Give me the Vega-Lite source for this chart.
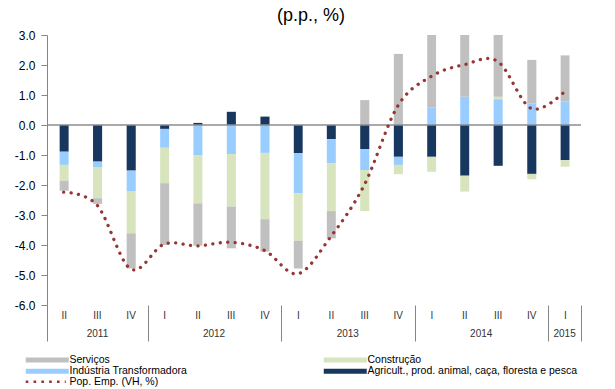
{
  "$schema": "https://vega.github.io/schema/vega-lite/v6.json",
  "width": 534,
  "height": 270,
  "autosize": "none",
  "padding": {"left": 47, "top": 35, "right": 34, "bottom": 84},
  "background": "white",
  "config": {"view": {"stroke": null}, "font": "Liberation Sans"},
  "title": {"text": "(p.p., %)", "fontSize": 18, "fontWeight": "normal", "font": "Liberation Sans", "color": "#000", "anchor": "middle", "frame": "group", "baseline": "middle", "offset": -5, "dx": -3},
  "datasets": {
    "sectors": [
      {"quarter": "2011-04-01", "series": "Agricult., prod. animal, caça, floresta e pesca", "value": -0.89},
      {"quarter": "2011-04-01", "series": "Indústria Transformadora", "value": -0.44},
      {"quarter": "2011-04-01", "series": "Construção", "value": -0.53},
      {"quarter": "2011-04-01", "series": "Serviços", "value": -0.33},
      {"quarter": "2011-07-01", "series": "Agricult., prod. animal, caça, floresta e pesca", "value": -1.22},
      {"quarter": "2011-07-01", "series": "Indústria Transformadora", "value": -0.20},
      {"quarter": "2011-07-01", "series": "Construção", "value": -1.02},
      {"quarter": "2011-07-01", "series": "Serviços", "value": -0.19},
      {"quarter": "2011-10-01", "series": "Agricult., prod. animal, caça, floresta e pesca", "value": -1.52},
      {"quarter": "2011-10-01", "series": "Indústria Transformadora", "value": -0.70},
      {"quarter": "2011-10-01", "series": "Construção", "value": -1.39},
      {"quarter": "2011-10-01", "series": "Serviços", "value": -1.17},
      {"quarter": "2012-01-01", "series": "Agricult., prod. animal, caça, floresta e pesca", "value": -0.13},
      {"quarter": "2012-01-01", "series": "Indústria Transformadora", "value": -0.63},
      {"quarter": "2012-01-01", "series": "Construção", "value": -1.18},
      {"quarter": "2012-01-01", "series": "Serviços", "value": -2.06},
      {"quarter": "2012-04-01", "series": "Agricult., prod. animal, caça, floresta e pesca", "value": 0.07},
      {"quarter": "2012-04-01", "series": "Indústria Transformadora", "value": -1.00},
      {"quarter": "2012-04-01", "series": "Construção", "value": -1.61},
      {"quarter": "2012-04-01", "series": "Serviços", "value": -1.41},
      {"quarter": "2012-07-01", "series": "Agricult., prod. animal, caça, floresta e pesca", "value": 0.44},
      {"quarter": "2012-07-01", "series": "Indústria Transformadora", "value": -0.97},
      {"quarter": "2012-07-01", "series": "Construção", "value": -1.75},
      {"quarter": "2012-07-01", "series": "Serviços", "value": -1.39},
      {"quarter": "2012-10-01", "series": "Agricult., prod. animal, caça, floresta e pesca", "value": 0.28},
      {"quarter": "2012-10-01", "series": "Indústria Transformadora", "value": -0.93},
      {"quarter": "2012-10-01", "series": "Construção", "value": -2.21},
      {"quarter": "2012-10-01", "series": "Serviços", "value": -1.08},
      {"quarter": "2013-01-01", "series": "Agricult., prod. animal, caça, floresta e pesca", "value": -0.93},
      {"quarter": "2013-01-01", "series": "Indústria Transformadora", "value": -1.35},
      {"quarter": "2013-01-01", "series": "Construção", "value": -1.58},
      {"quarter": "2013-01-01", "series": "Serviços", "value": -0.92},
      {"quarter": "2013-04-01", "series": "Agricult., prod. animal, caça, floresta e pesca", "value": -0.47},
      {"quarter": "2013-04-01", "series": "Indústria Transformadora", "value": -0.80},
      {"quarter": "2013-04-01", "series": "Construção", "value": -1.60},
      {"quarter": "2013-04-01", "series": "Serviços", "value": -0.91},
      {"quarter": "2013-07-01", "series": "Agricult., prod. animal, caça, floresta e pesca", "value": -0.80},
      {"quarter": "2013-07-01", "series": "Indústria Transformadora", "value": -0.70},
      {"quarter": "2013-07-01", "series": "Construção", "value": -1.37},
      {"quarter": "2013-07-01", "series": "Serviços", "value": 0.83},
      {"quarter": "2013-10-01", "series": "Agricult., prod. animal, caça, floresta e pesca", "value": -1.06},
      {"quarter": "2013-10-01", "series": "Indústria Transformadora", "value": -0.27},
      {"quarter": "2013-10-01", "series": "Construção", "value": -0.31},
      {"quarter": "2013-10-01", "series": "Serviços", "value": 2.37},
      {"quarter": "2014-01-01", "series": "Agricult., prod. animal, caça, floresta e pesca", "value": -1.06},
      {"quarter": "2014-01-01", "series": "Indústria Transformadora", "value": 0.58},
      {"quarter": "2014-01-01", "series": "Construção", "value": -0.50},
      {"quarter": "2014-01-01", "series": "Serviços", "value": 2.60},
      {"quarter": "2014-04-01", "series": "Agricult., prod. animal, caça, floresta e pesca", "value": -1.69},
      {"quarter": "2014-04-01", "series": "Indústria Transformadora", "value": 0.94},
      {"quarter": "2014-04-01", "series": "Construção", "value": -0.53},
      {"quarter": "2014-04-01", "series": "Serviços", "value": 3.30},
      {"quarter": "2014-07-01", "series": "Agricult., prod. animal, caça, floresta e pesca", "value": -1.36},
      {"quarter": "2014-07-01", "series": "Indústria Transformadora", "value": 0.86},
      {"quarter": "2014-07-01", "series": "Construção", "value": 0.08},
      {"quarter": "2014-07-01", "series": "Serviços", "value": 2.50},
      {"quarter": "2014-10-01", "series": "Agricult., prod. animal, caça, floresta e pesca", "value": -1.63},
      {"quarter": "2014-10-01", "series": "Indústria Transformadora", "value": 0.72},
      {"quarter": "2014-10-01", "series": "Construção", "value": -0.18},
      {"quarter": "2014-10-01", "series": "Serviços", "value": 1.45},
      {"quarter": "2015-01-01", "series": "Agricult., prod. animal, caça, floresta e pesca", "value": -1.17},
      {"quarter": "2015-01-01", "series": "Indústria Transformadora", "value": 0.78},
      {"quarter": "2015-01-01", "series": "Construção", "value": -0.22},
      {"quarter": "2015-01-01", "series": "Serviços", "value": 1.54}
    ],
    "employment": [
      {"quarter": "2011-04-01", "series": "Pop. Emp. (VH, %)", "value": -2.24},
      {"quarter": "2011-07-01", "series": "Pop. Emp. (VH, %)", "value": -2.67},
      {"quarter": "2011-10-01", "series": "Pop. Emp. (VH, %)", "value": -4.8},
      {"quarter": "2012-01-01", "series": "Pop. Emp. (VH, %)", "value": -3.97},
      {"quarter": "2012-04-01", "series": "Pop. Emp. (VH, %)", "value": -4.03},
      {"quarter": "2012-07-01", "series": "Pop. Emp. (VH, %)", "value": -3.91},
      {"quarter": "2012-10-01", "series": "Pop. Emp. (VH, %)", "value": -4.18},
      {"quarter": "2013-01-01", "series": "Pop. Emp. (VH, %)", "value": -4.96},
      {"quarter": "2013-04-01", "series": "Pop. Emp. (VH, %)", "value": -3.72},
      {"quarter": "2013-07-01", "series": "Pop. Emp. (VH, %)", "value": -2.0},
      {"quarter": "2013-10-01", "series": "Pop. Emp. (VH, %)", "value": 0.64},
      {"quarter": "2014-01-01", "series": "Pop. Emp. (VH, %)", "value": 1.62},
      {"quarter": "2014-04-01", "series": "Pop. Emp. (VH, %)", "value": 2.01},
      {"quarter": "2014-07-01", "series": "Pop. Emp. (VH, %)", "value": 2.12},
      {"quarter": "2014-10-01", "series": "Pop. Emp. (VH, %)", "value": 0.55},
      {"quarter": "2015-01-01", "series": "Pop. Emp. (VH, %)", "value": 1.11}
    ],
    "zero": [{"value": 0}]
  },
  "layer": [
    {
      "data": {"name": "sectors"},
      "mark": {"type": "bar", "width": {"band": 0.3}, "clip": true},
      "encoding": {
        "x": {
          "field": "quarter", "type": "temporal", "timeUnit": "utcyearquarter",
          "scale": {"domain": [{"year": 2011, "month": 4, "date": 1, "utc": true}, {"year": 2015, "month": 4, "date": 1, "utc": true}]},
          "axis": {
            "orient": "bottom", "title": null, "domain": false, "ticks": false, "grid": false,
            "values": [
              {"year": 2011, "month": 4, "date": 1, "utc": true}, {"year": 2011, "month": 7, "date": 1, "utc": true}, {"year": 2011, "month": 10, "date": 1, "utc": true},
              {"year": 2012, "month": 1, "date": 1, "utc": true}, {"year": 2012, "month": 4, "date": 1, "utc": true}, {"year": 2012, "month": 7, "date": 1, "utc": true}, {"year": 2012, "month": 10, "date": 1, "utc": true},
              {"year": 2013, "month": 1, "date": 1, "utc": true}, {"year": 2013, "month": 4, "date": 1, "utc": true}, {"year": 2013, "month": 7, "date": 1, "utc": true}, {"year": 2013, "month": 10, "date": 1, "utc": true},
              {"year": 2014, "month": 1, "date": 1, "utc": true}, {"year": 2014, "month": 4, "date": 1, "utc": true}, {"year": 2014, "month": 7, "date": 1, "utc": true}, {"year": 2014, "month": 10, "date": 1, "utc": true},
              {"year": 2015, "month": 1, "date": 1, "utc": true}
            ],
            "labelExpr": "['I','II','III','IV'][floor(utcmonth(datum.value)/3)]",
            "labelOffset": 16.7, "labelPadding": 5, "labelFontSize": 10, "labelColor": "#333333",
            "labelFlush": false, "labelOverlap": false, "labelBound": false
          }
        },
        "y": {
          "field": "value", "type": "quantitative", "stack": "zero",
          "scale": {"domain": [-6, 3], "nice": false, "zero": false},
          "axis": {
            "title": null, "grid": false, "values": [-6, -5, -4, -3, -2, -1, 0, 1, 2, 3],
            "labelExpr": "replace(format(datum.value, '.1f'), '\u2212', '-')",
            "domainColor": "#868686", "tickColor": "#868686", "tickSize": 6, "labelPadding": 6,
            "labelFontSize": 12, "labelColor": "#000000", "labelOverlap": false, "labelBound": false, "labelFlush": false
          }
        },
        "color": {
          "field": "series", "type": "nominal",
          "sort": ["Serviços", "Construção", "Indústria Transformadora", "Agricult., prod. animal, caça, floresta e pesca"],
          "scale": {"range": ["#c0c0c0", "#d7e4bd", "#99ccff", "#17375e"]},
          "legend": {
            "orient": "none", "legendX": -24, "legendY": 319.5, "columns": 2, "title": null,
            "values": ["Serviços", "Indústria Transformadora", "Construção", "Agricult., prod. animal, caça, floresta e pesca"],
            "symbolType": "M-1,-1H16.2V1H-1Z", "symbolSize": 25, "symbolStrokeWidth": 0,
            "labelOffset": 36, "labelFontSize": 10.5, "labelColor": "#000000", "labelLimit": 0,
            "rowPadding": 0.5, "columnPadding": 134, "padding": 0
          }
        },
        "order": {"field": "color_series_sort_index", "type": "quantitative", "sort": "descending"}
      }
    },
    {
      "data": {"name": "zero"},
      "mark": {"type": "rule", "color": "#8c8c8c", "strokeWidth": 1.5},
      "encoding": {
        "y": {
          "field": "value", "type": "quantitative",
          "axis": {
            "title": null, "grid": false, "values": [-6, -5, -4, -3, -2, -1, 0, 1, 2, 3],
            "labelExpr": "replace(format(datum.value, '.1f'), '\u2212', '-')",
            "domainColor": "#868686", "tickColor": "#868686", "tickSize": 6, "labelPadding": 6,
            "labelFontSize": 12, "labelColor": "#000000", "labelOverlap": false, "labelBound": false, "labelFlush": false
          }
        }
      }
    },
    {
      "data": {"name": "employment"},
      "mark": {"type": "line", "interpolate": "cardinal", "strokeDash": [0.1, 7.4], "strokeCap": "round", "strokeWidth": 3.3},
      "encoding": {
        "x": {
          "field": "quarter", "type": "temporal", "timeUnit": "utcyearquarter", "bandPosition": 0.5,
          "axis": {
            "orient": "bottom", "title": null, "domain": false, "grid": false,
            "values": [
              {"year": 2011, "month": 4, "date": 1, "utc": true}, {"year": 2012, "month": 1, "date": 1, "utc": true},
              {"year": 2013, "month": 1, "date": 1, "utc": true}, {"year": 2014, "month": 1, "date": 1, "utc": true},
              {"year": 2015, "month": 1, "date": 1, "utc": true}, {"year": 2015, "month": 4, "date": 1, "utc": true}
            ],
            "tickSize": 36, "tickColor": "#868686", "tickWidth": 1,
            "labelExpr": "utcmonth(datum.value) == 3 && utcyear(datum.value) == 2015 ? '' : utcyear(datum.value) + ''",
            "labelOffset": {"condition": [{"test": "utcyear(datum.value) == 2011", "value": 50}, {"test": "utcyear(datum.value) == 2015", "value": 16}], "value": 66},
            "labelPadding": -13, "labelFontSize": 10, "labelColor": "#333333",
            "labelFlush": false, "labelOverlap": false, "labelBound": false
          }
        },
        "y": {
          "field": "value", "type": "quantitative",
          "axis": {
            "title": null, "grid": false, "values": [-6, -5, -4, -3, -2, -1, 0, 1, 2, 3],
            "labelExpr": "replace(format(datum.value, '.1f'), '\u2212', '-')",
            "domainColor": "#868686", "tickColor": "#868686", "tickSize": 6, "labelPadding": 6,
            "labelFontSize": 12, "labelColor": "#000000", "labelOverlap": false, "labelBound": false, "labelFlush": false
          }
        },
        "stroke": {
          "field": "series", "type": "nominal",
          "scale": {"range": ["#953735"]},
          "legend": {
            "orient": "none", "legendX": -24, "legendY": 341.5, "title": null,
            "symbolType": "M-1,0H15", "symbolSize": 25, "symbolStrokeWidth": 2.6, "symbolDash": [2.6, 5.2],
            "labelOffset": 36, "labelFontSize": 10.5, "labelColor": "#000000", "labelLimit": 0, "padding": 0
          }
        }
      }
    }
  ],
  "resolve": {"axis": {"x": "independent"}}
}
